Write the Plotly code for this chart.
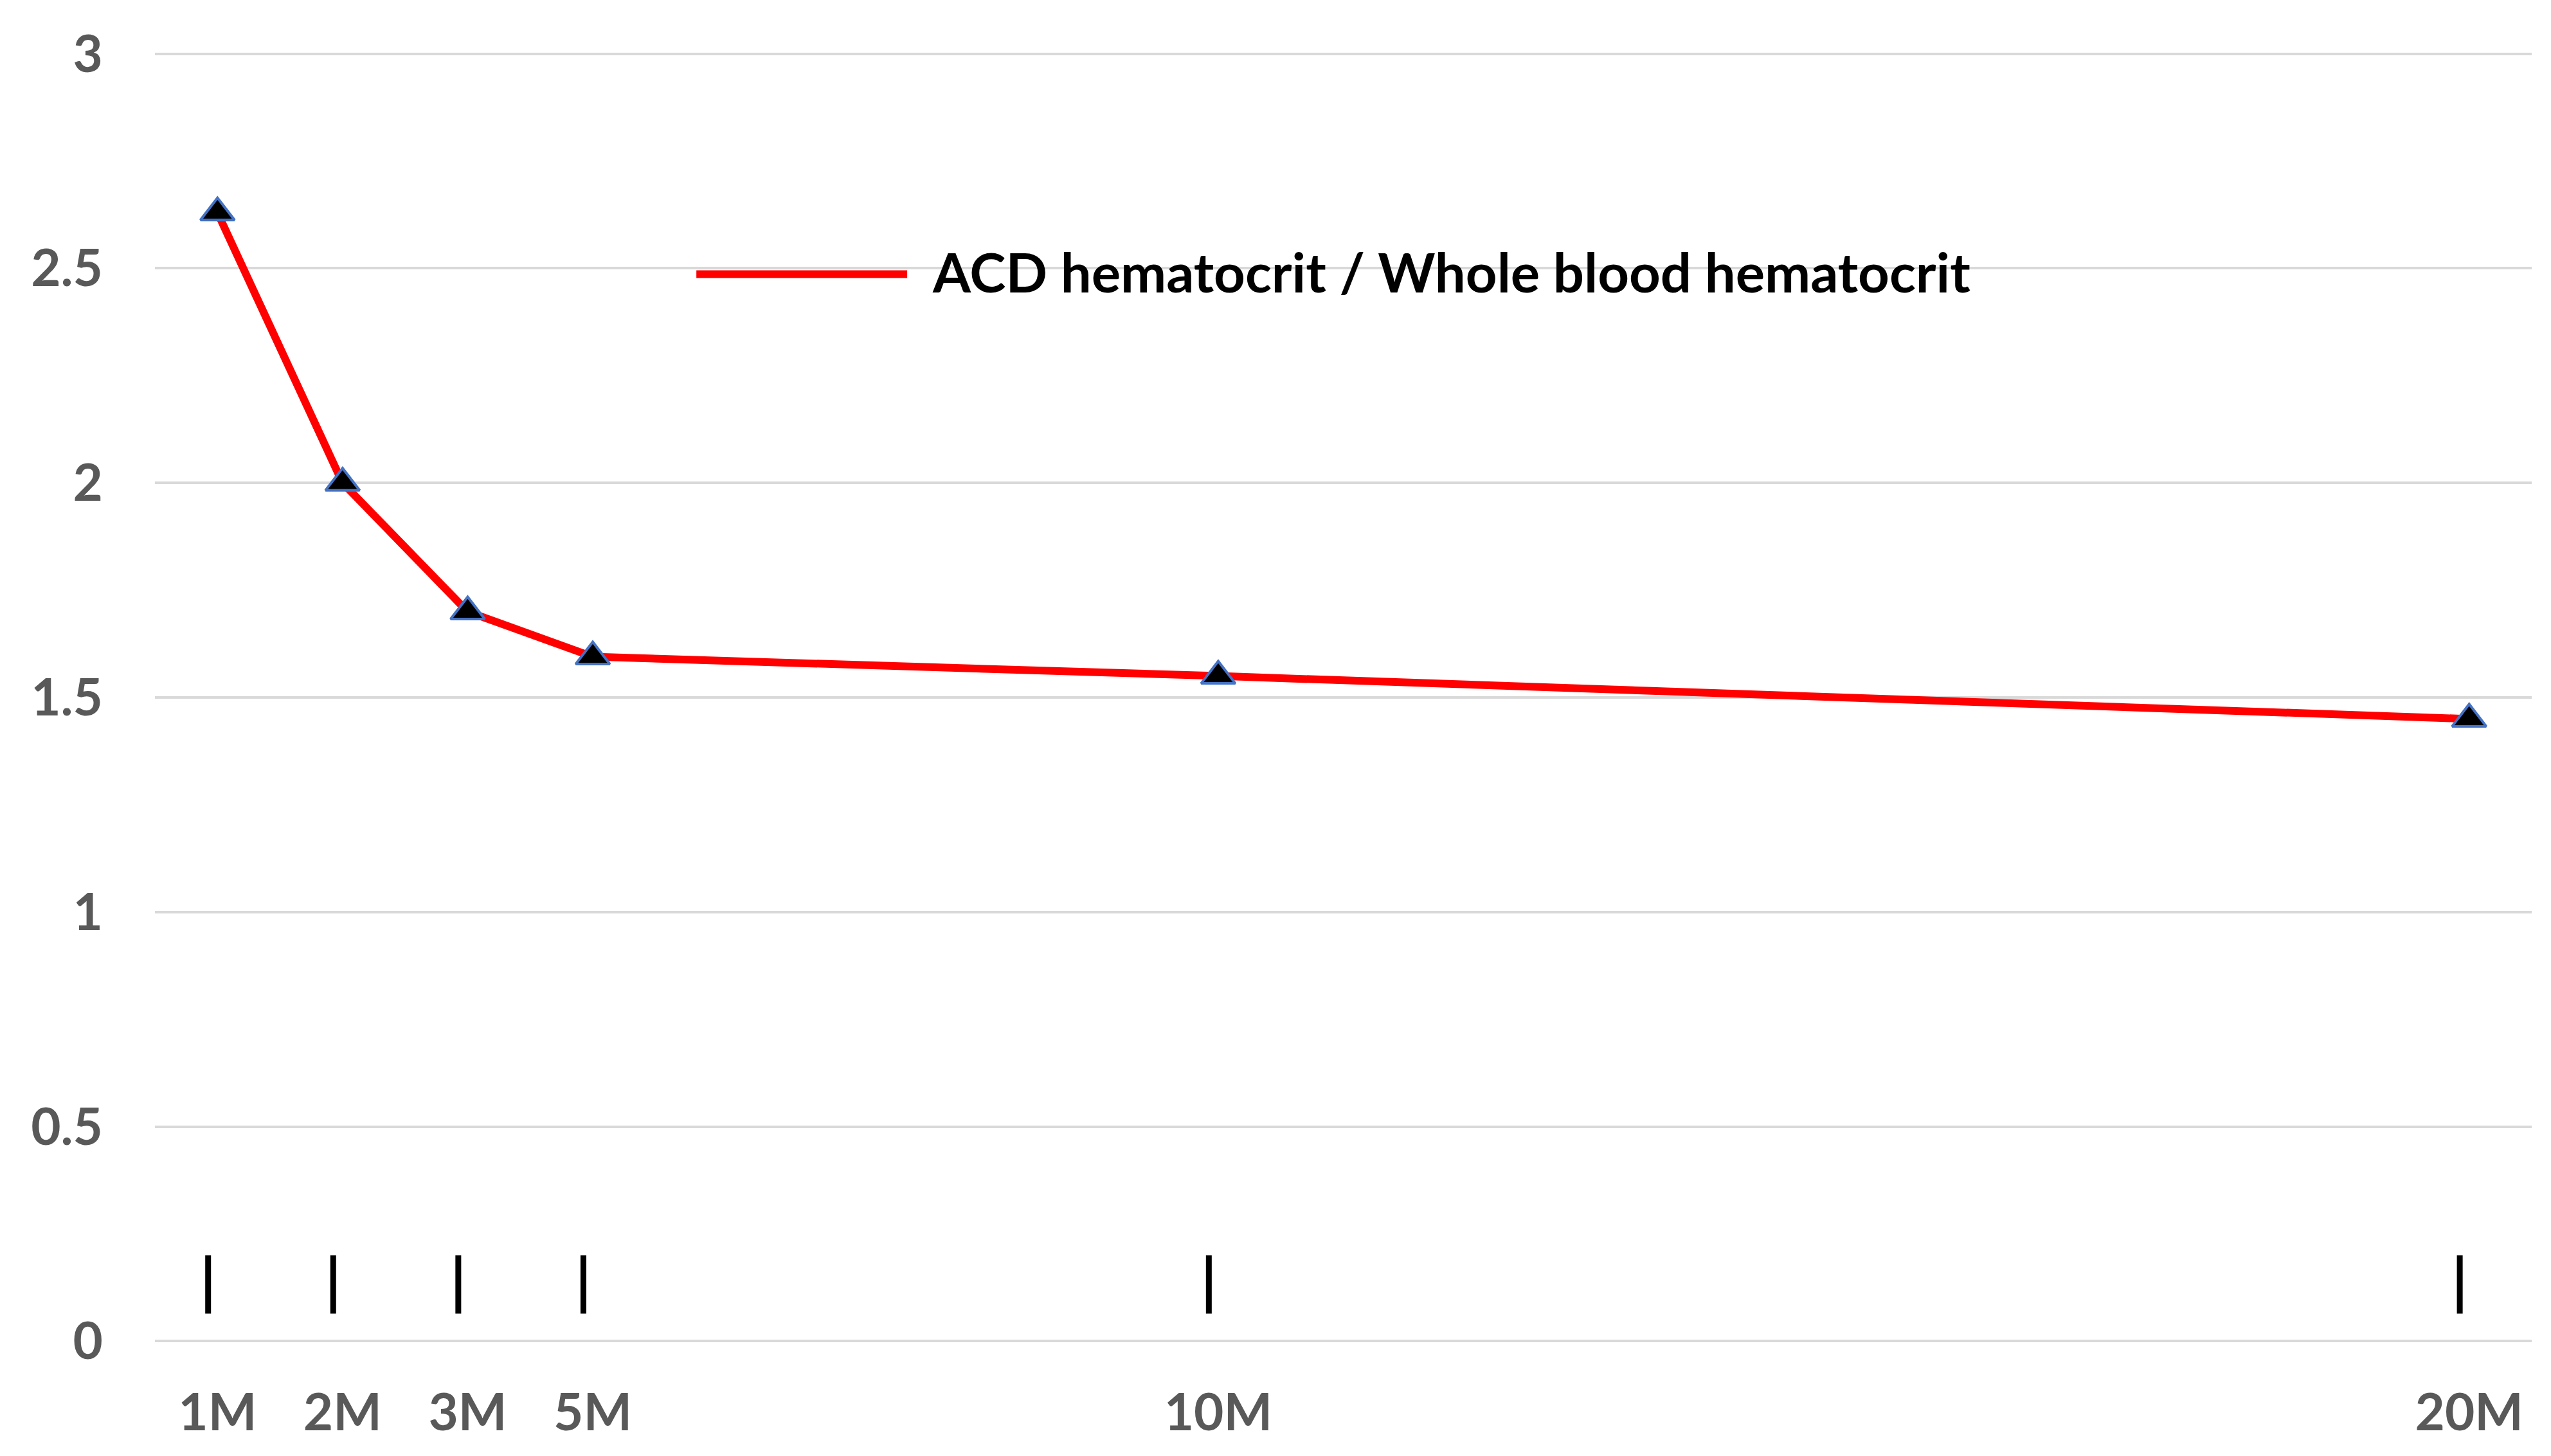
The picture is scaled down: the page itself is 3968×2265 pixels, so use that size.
import plotly.graph_objects as go

# ---- data ----
time_labels = ["1M", "2M", "3M", "5M", "10M", "20M"]
x_positions = [1, 2, 3, 4, 9, 19]          # category slots on the axis
ratio_values = [2.63, 2.0, 1.70, 1.595, 1.55, 1.45]
series_name = "ACD hematocrit / Whole blood hematocrit"
y_tick_vals = [0, 0.5, 1, 1.5, 2, 2.5, 3]
y_tick_text = ["0", "0.5", "1", "1.5", "2", "2.5", "3"]

W, H = 3968, 2265
FONT = "Lato"
GRAY = "#595959"

fig = go.Figure()

fig.add_trace(go.Scatter(
    x=x_positions, y=ratio_values, mode="lines+markers", name=series_name,
    line=dict(color="#FF0000", width=12),
    marker=dict(symbol="triangle-up", size=46, color="black",
                line=dict(color="#4472C4", width=4)),
    showlegend=False,
))

# small black vertical marks drawn under each time point
for xp in x_positions:
    fig.add_shape(type="line", xref="x", yref="y",
                  x0=xp - 0.075, x1=xp - 0.075, y0=0.064, y1=0.20,
                  line=dict(color="black", width=9))

# manual legend (long line sample like the original)
fig.add_shape(type="line", xref="paper", yref="paper",
              x0=0.2278, x1=0.3165, y0=0.828, y1=0.828,
              line=dict(color="#FF0000", width=12))
fig.add_annotation(xref="paper", yref="paper", x=0.3265, y=0.830,
                   xanchor="left", yanchor="middle", showarrow=False,
                   text="<b>" + series_name + "</b>",
                   font=dict(family=FONT, size=85, color="black"))

fig.update_layout(
    width=W, height=H,
    paper_bgcolor="white", plot_bgcolor="white",
    margin=dict(l=233, r=38, t=73, b=184),
    font=dict(family=FONT, color=GRAY),
    xaxis=dict(
        range=[0.5, 19.5], tickmode="array", tickvals=x_positions,
        ticktext=["<b>%s</b>" % t for t in time_labels],
        showgrid=False, zeroline=False, showline=False, ticks="",
        tickfont=dict(family=FONT, size=80, color=GRAY),
        ticklabelstandoff=55,
    ),
    yaxis=dict(
        range=[-0.004, 3.004], tickmode="array", tickvals=y_tick_vals,
        ticktext=["<b>%s</b>" % t for t in y_tick_text],
        showgrid=True, gridcolor="#D9D9D9", gridwidth=4,
        zeroline=False, showline=False, ticks="",
        tickfont=dict(family=FONT, size=80, color=GRAY),
        ticklabelstandoff=80,
    ),
)

fig.write_html("out.html")
